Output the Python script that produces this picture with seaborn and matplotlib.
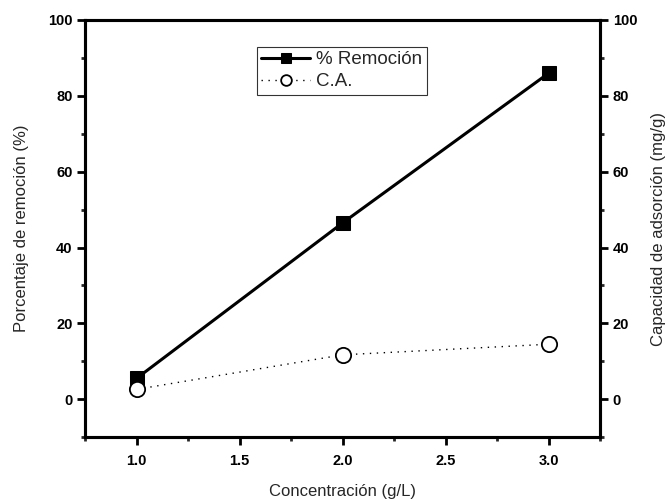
import pandas as pd
import matplotlib
matplotlib.use("Agg")
import matplotlib.pyplot as plt
import seaborn as sns
from matplotlib.ticker import MultipleLocator

sns.set_theme(style="ticks")
plt.rcParams["font.family"] = ["Liberation Sans", "DejaVu Sans"]

# Data
concentracion = [1.0, 2.0, 3.0]
remocion = [5.5, 46.5, 86.0]
capacidad = [2.6, 11.7, 14.5]

df = pd.DataFrame({
    "conc": concentracion,
    "remocion": remocion,
    "ca": capacidad,
})

fig = plt.figure(figsize=(6.70, 4.99), dpi=100)
ax = fig.add_axes([0.127, 0.124, 0.769, 0.836])
ax2 = ax.twinx()

sns.lineplot(data=df, x="conc", y="remocion", ax=ax, color="black",
             linewidth=2.2, marker="s", markersize=10.5,
             markerfacecolor="black", markeredgecolor="black",
             label="% Remoción", legend=False)
sns.lineplot(data=df, x="conc", y="ca", ax=ax2, color="black",
             linewidth=1.0, linestyle=(0, (1, 4)), marker="o", markersize=11,
             markerfacecolor="white", markeredgecolor="black",
             markeredgewidth=1.3, label="C.A.", legend=False)

for a in (ax, ax2):
    a.set_ylim(-10, 100)
    a.yaxis.set_major_locator(MultipleLocator(20))
    a.yaxis.set_minor_locator(MultipleLocator(10))
    for s in a.spines.values():
        s.set_linewidth(2.2)
        s.set_color("black")
    a.tick_params(axis="both", which="major", direction="out", length=5.5,
                  width=2, labelsize=10.5, colors="black")
    a.tick_params(axis="both", which="minor", direction="out", length=3,
                  width=2)
    for lbl in a.get_yticklabels():
        lbl.set_fontweight("bold")

ax.set_xlim(0.75, 3.25)
ax.xaxis.set_major_locator(MultipleLocator(0.5))
ax.xaxis.set_minor_locator(MultipleLocator(0.25))
ax.set_xticks([1.0, 1.5, 2.0, 2.5, 3.0])
ax.set_xticklabels(["1.0", "1.5", "2.0", "2.5", "3.0"], fontweight="bold")
ax.tick_params(axis="x", pad=7)

ax.set_xlabel("Concentración (g/L)", fontsize=12, labelpad=11)
ax.set_ylabel("Porcentaje de remoción (%)", fontsize=12, labelpad=14)
ax2.set_ylabel("Capacidad de adsorción (mg/g)", fontsize=12, labelpad=10)

h1, l1 = ax.get_legend_handles_labels()
h2, l2 = ax2.get_legend_handles_labels()
leg = ax2.legend(h1 + h2, l1 + l2, loc="upper left",
                 bbox_to_anchor=(0.333, 0.936), fontsize=13.5, frameon=True,
                 fancybox=False, edgecolor="black", handlelength=2.6,
                 handletextpad=0.3, borderpad=0.25, labelspacing=0.25,
                 borderaxespad=0, markerscale=0.7)
leg.get_frame().set_linewidth(0.8)

fig.savefig("out.png", dpi=100)
